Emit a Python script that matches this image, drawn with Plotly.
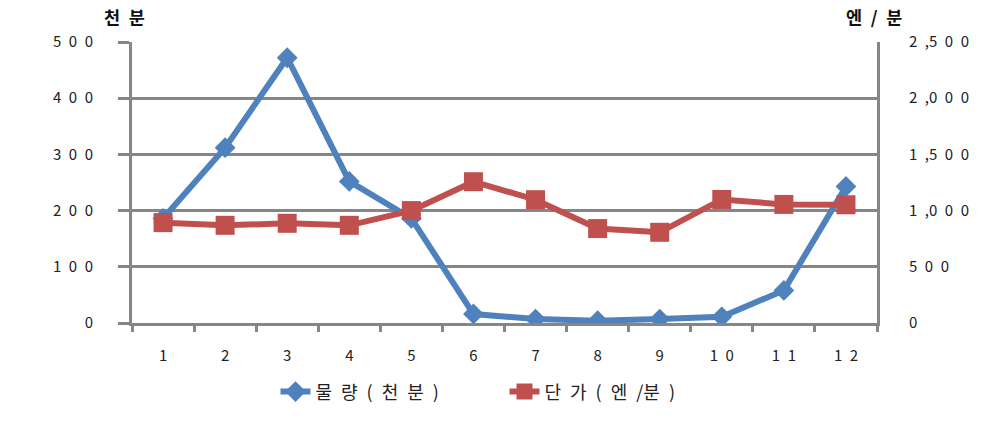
import plotly.graph_objects as go

S = "\u2002"  # en space, to mimic the wide glyph spacing of the original

months = list(range(1, 13))
month_labels = ["1", "2", "3", "4", "5", "6", "7", "8", "9", "1" + S + "0", "1" + S + "1", "1" + S + "2"]
volume = [186, 312, 472, 252, 186, 16, 7, 4, 7, 11, 58, 243]
price = [893, 869, 887, 869, 1000, 1257, 1097, 840, 807, 1099, 1055, 1052]

left_vals = [0, 100, 200, 300, 400, 500]
left_text = ["0", S.join("100"), S.join("200"), S.join("300"), S.join("400"), S.join("500")]
right_vals = [0, 500, 1000, 1500, 2000, 2500]
right_text = ["0", S.join("500"), "1" + S + ",0" + S + "0" + S + "0", "1" + S + ",5" + S + "0" + S + "0",
              "2" + S + ",0" + S + "0" + S + "0", "2" + S + ",5" + S + "0" + S + "0"]

vol_name = S.join(["물", "량", "(", "천", "분", ")"])
price_name = S.join(["단", "가", "(", "엔", "/분", ")"])

GRAY = "#868686"
BLUE = "#4F81BD"
RED = "#C0504D"
FONT = "Noto Sans CJK KR"

fig = go.Figure()
fig.add_trace(go.Scatter(
    x=months, y=volume, name=vol_name, mode="lines+markers",
    line=dict(color=BLUE, width=6),
    marker=dict(symbol="diamond", size=16, color=BLUE),
    yaxis="y",
))
fig.add_trace(go.Scatter(
    x=months, y=price, name=price_name, mode="lines+markers",
    line=dict(color=RED, width=6),
    marker=dict(symbol="square", size=19, color=RED),
    yaxis="y2",
))

fig.update_layout(
    width=983, height=422,
    margin=dict(l=132, r=106, t=42, b=99),
    plot_bgcolor="white", paper_bgcolor="white",
    font=dict(family=FONT, size=15, color="#222222"),
    xaxis=dict(
        range=[0.5, 12.5], tickmode="array", tickvals=months, ticktext=month_labels,
        showgrid=False, zeroline=False, showline=True, linecolor=GRAY, linewidth=3,
        ticks="", ticklabelstandoff=17,
        minor=dict(tickvals=[i + 0.5 for i in range(0, 13)], ticks="outside",
                   ticklen=6, tickwidth=3, tickcolor=GRAY, showgrid=False),
    ),
    yaxis=dict(
        range=[0, 500], tickmode="array", tickvals=left_vals, ticktext=left_text,
        showgrid=True, gridcolor=GRAY, gridwidth=3, zeroline=False,
        showline=True, linecolor=GRAY, linewidth=3,
        ticks="outside", ticklen=11, tickwidth=3, tickcolor=GRAY,
        ticklabelstandoff=22,
    ),
    yaxis2=dict(
        range=[0, 2500], tickmode="array", tickvals=right_vals, ticktext=right_text,
        overlaying="y", side="right", showgrid=False, zeroline=False,
        showline=True, linecolor=GRAY, linewidth=3, ticks="",
        ticklabelstandoff=26,
    ),
    legend=dict(
        orientation="h", x=0.5, xanchor="center", y=-0.245, yanchor="middle",
        font=dict(size=18, family=FONT, color="#222222"), entrywidth=184,
    ),
    showlegend=True,
)

fig.add_annotation(text="<b>천" + S + "분</b>", x=(124.5 - 132) / 745, y=(422 - 17 - 99) / 281,
                   xref="paper", yref="paper", showarrow=False, xanchor="center", yanchor="middle",
                   font=dict(size=17.5, family=FONT, color="#111111"))
fig.add_annotation(text="<b>엔" + S + "/" + S + "분</b>", x=(873.5 - 132) / 745, y=(422 - 17 - 99) / 281,
                   xref="paper", yref="paper", showarrow=False, xanchor="center", yanchor="middle",
                   font=dict(size=17.5, family=FONT, color="#111111"))

fig.write_html("out.html")
